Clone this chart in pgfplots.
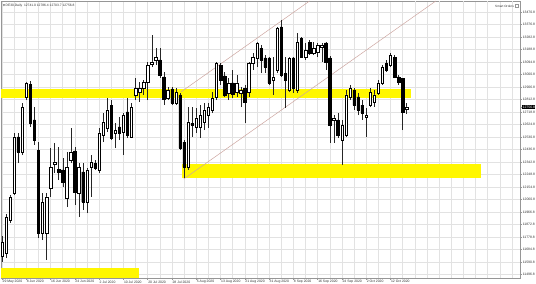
\documentclass[border=0pt]{standalone}
\usepackage{fontspec}
\setmainfont{Liberation Sans}
\newfontfamily\dejavu{DejaVu Sans}
\usepackage{pgfplots}
\usepackage{pgfplotstable}
\pgfplotsset{compat=1.18}
\definecolor{band}{RGB}{255,247,0}
\definecolor{chan}{RGB}{205,165,160}
\definecolor{gridc}{RGB}{226,226,226}
\definecolor{framec}{RGB}{150,150,150}

\pgfplotstableread{
i o h l c
0 11636 11786 11591 11741
1 11658 11952 11621 11929
2 11907 12095 11884 12080
3 12110 12561 12095 12531
4 12531 12561 12335 12418
5 12418 12786 12395 12756
6 12832 12944 12809 12937
7 12929 12952 12606 12636
8 12659 12756 12471 12508
9 12433 12493 11771 11809
10 11809 12110 11756 12042
11 11809 12110 11606 12080
12 12147 12448 12080 12305
13 12328 12486 12260 12343
14 12290 12456 12207 12268
15 12283 12373 12155 12192
16 12072 12418 12004 12305
17 12358 12598 12335 12418
18 12426 12456 12019 12117
19 12110 12335 11929 12305
20 12268 12335 11982 12042
21 12042 12298 11959 12283
22 12305 12395 12080 12343
23 12335 12358 12283 12298
24 12283 12598 12260 12561
25 12546 12711 12493 12644
26 12598 12824 12568 12734
27 12771 12809 12508 12523
28 12561 12636 12448 12583
29 12606 12681 12508 12561
30 12568 12711 12395 12696
31 12719 12824 12523 12546
32 12531 12786 12523 12756
33 12847 12974 12809 12899
34 12869 12944 12794 12899
35 12899 12959 12847 12944
36 12944 13095 12809 13072
37 13080 13298 13057 13095
38 13110 13200 13072 13132
39 13110 13200 12974 12997
40 12982 13020 12771 12817
41 12824 12907 12809 12884
42 12892 12907 12771 12786
43 12786 12899 12771 12869
44 12847 12862 12433 12448
45 12493 12508 12222 12305
46 12305 12756 12283 12644
47 12636 12756 12531 12621
48 12606 12749 12561 12674
49 12606 12771 12523 12696
50 12644 12786 12583 12734
51 12696 12786 12598 12756
52 12734 12869 12711 12824
53 12832 13095 12809 13087
54 13072 13087 12922 12959
55 12990 13020 12832 12847
56 12862 12974 12809 12937
57 12937 13035 12824 12854
58 12869 12997 12832 12937
59 12862 12907 12756 12884
60 12899 12922 12636 12794
61 12869 13095 12832 13087
62 13087 13162 13035 13132
63 13125 13245 13057 13238
64 13200 13223 13012 13110
65 13125 13147 13012 13057
66 13125 13132 12922 12937
67 12959 13132 12847 12982
68 13035 13358 13012 13350
69 13358 13411 12982 12997
70 13012 13132 12749 12959
71 12884 13132 12869 13125
72 13125 13132 12862 12899
73 12884 13313 12862 13245
74 13275 13283 13125 13132
75 13132 13238 13110 13185
76 13245 13260 13147 13162
77 13162 13245 13147 13200
78 13170 13238 13132 13223
79 13208 13238 13095 13223
80 13238 13245 13035 13095
81 13125 13140 12486 12621
82 12659 12696 12486 12674
83 12659 12711 12523 12546
84 12508 12659 12320 12621
85 12546 12884 12531 12847
86 12832 12922 12809 12899
87 12884 12899 12734 12771
88 12832 12862 12696 12734
89 12771 12809 12659 12711
90 12681 12749 12531 12696
91 12771 12899 12756 12869
92 12794 12884 12756 12847
93 12862 12959 12847 12937
94 12937 13072 12922 13057
95 13087 13110 13020 13035
96 13072 13162 13057 13147
97 13132 13147 12974 12982
98 12982 12997 12922 12944
99 12974 12974 12583 12719
100 12741 12786 12704 12757
}\candles

\pgfplotsset{
  chartbase/.style={
    at={(0,0)}, anchor=south west,
    scale only axis, width=519pt, height=277pt,
    xmin=-0.25, xmax=128, ymin=11470.5, ymax=13553.5,
  },
}

\begin{document}
\begin{tikzpicture}
\path[use as bounding box] (-1pt,-6pt) rectangle (535pt,278pt);
\begin{axis}[chartbase,
  axis line style={framec, line width=0.5pt},
  xtick={0,6,...,96},
  xticklabels={29 May 2020, 8 Jun 2020, 16 Jun 2020, 24 Jun 2020, 2 Jul 2020, 10 Jul 2020, 20 Jul 2020, 28 Jul 2020, 5 Aug 2020, 13 Aug 2020, 21 Aug 2020, 31 Aug 2020, 8 Sep 2020, 16 Sep 2020, 24 Sep 2020, 2 Oct 2020, 12 Oct 2020},
  minor xtick={3,9,...,127},
  extra x ticks={102,108,...,126},
  extra x tick labels={},
  extra x tick style={grid=major, major tick length=0pt},
  ytick={11496.8,11590.8,11684.8,11778.8,11872.8,11966.8,12060.8,12154.8,12248.8,12342.8,12436.8,12530.8,12624.8,12718.8,12812.8,12906.8,13000.8,13094.8,13188.8,13282.8,13376.8,13470.8},
  yticklabels={11496.8,11590.8,11684.8,11778.8,11872.8,11966.8,12060.8,12154.8,12248.8,12342.8,12436.8,12530.8,12624.8,12718.8,12812.8,12906.8,13000.8,13094.8,13188.8,13282.8,13376.8,13470.8},
  extra y ticks={12756.8},
  extra y tick labels={12756.8},
  extra y tick style={grid=none, major tick length=2pt, yticklabel style={fill=black, text=white, inner sep=0.5pt}},
  grid=both,
  major grid style={gridc, line width=0.45pt},
  minor grid style={gridc, line width=0.45pt},
  xtick pos=bottom, ytick pos=right, yticklabel pos=right,
  tick align=outside, major tick length=2pt, minor tick length=0pt,
  tick style={framec, line width=0.4pt},
  xticklabel style={anchor=north west, font=\fontsize{3.4}{4}\selectfont, inner sep=0.4pt, text=black!80},
  yticklabel style={anchor=west, font=\fontsize{3.4}{4}\selectfont, inner sep=0.6pt, text=black!80},
  /pgf/number format/assume math mode=true,
]
% yellow zones
\addplot[fill=band, draw=none, forget plot] coordinates {(-0.25,12824) (101,12824) (101,12892) (-0.25,12892)} -- cycle;
\addplot[fill=band, draw=none, forget plot] coordinates {(44.4,12222) (118.3,12222) (118.3,12328) (44.4,12328)} -- cycle;
\addplot[fill=band, draw=none, forget plot] coordinates {(-0.25,11470.5) (33.8,11470.5) (33.8,11546) (-0.25,11546)} -- cycle;
% channel
\addplot[chan, line width=0.5pt, forget plot] coordinates {(44.2,12869) (76.0,13553.5)};
\addplot[chan, line width=0.5pt, forget plot] coordinates {(44.9,12215) (107.2,13553.5)};
% wicks
\addplot[draw=none, mark=none, forget plot,
  error bars/.cd, y dir=plus, y explicit, error mark=none,
  error bar style={draw=black!85, line width=0.4pt}]
  table[x=i, y=l, y error expr=\thisrow{h}-\thisrow{l}] {\candles};
\node[anchor=north west, inner sep=0pt, font=\fontsize{3.3}{4}\selectfont, text=black!80] at ([xshift=2pt, yshift=-3pt]rel axis cs:0,1) {{\dejavu\fontsize{2.5}{3}\selectfont ▼}\,DE30,Daily\ \ 12741.0 12786.4 12703.7 12756.8};
\node[anchor=north east, inner sep=0pt, font=\fontsize{3.1}{4}\selectfont, text=black!80] at ([xshift=-6pt, yshift=-4.5pt]rel axis cs:1,1) {Smart Orders};
\node[anchor=north east, inner sep=0pt, draw=framec, line width=0.3pt, minimum width=3pt, minimum height=3pt] at ([xshift=-1.5pt, yshift=-3.5pt]rel axis cs:1,1) {};
\end{axis}
\begin{axis}[chartbase, hide axis, ybar stacked, bar width=0.6]
\addplot[draw=none, fill=none] table[x=i, y expr={min(\thisrow{o},\thisrow{c})}] {\candles};
\addplot[fill=white, draw=black, line width=0.45pt] table[x=i, y expr={max(\thisrow{c}-\thisrow{o},0)}] {\candles};
\addplot[fill=black, draw=black, line width=0.45pt] table[x=i, y expr={max(\thisrow{o}-\thisrow{c},0)}] {\candles};
\end{axis}
\end{tikzpicture}
\end{document}
